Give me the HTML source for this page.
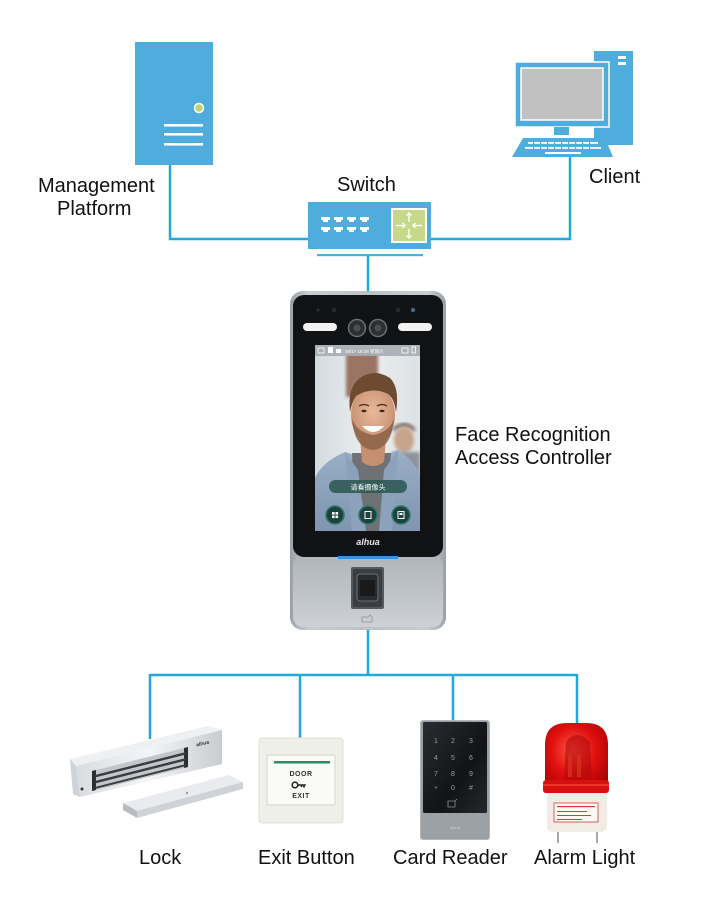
<!DOCTYPE html>
<html>
<head>
<meta charset="utf-8">
<style>
  html,body{margin:0;padding:0;background:#fff;}
  svg{display:block;}
  .lbl{font-family:"Liberation Sans","Noto Sans CJK SC",sans-serif;font-size:20px;fill:#111;}
</style>
</head>
<body>
<svg width="704" height="915" viewBox="0 0 704 915" xmlns="http://www.w3.org/2000/svg">
  <defs>
    <linearGradient id="devBody" x1="0" y1="0" x2="1" y2="0">
      <stop offset="0" stop-color="#9aa0a6"/>
      <stop offset="0.12" stop-color="#c9cdd1"/>
      <stop offset="0.5" stop-color="#bcc1c6"/>
      <stop offset="0.88" stop-color="#c9cdd1"/>
      <stop offset="1" stop-color="#9aa0a6"/>
    </linearGradient>
    <linearGradient id="devLow" x1="0" y1="0" x2="0" y2="1">
      <stop offset="0" stop-color="#b0b5ba"/>
      <stop offset="1" stop-color="#cdd1d5"/>
    </linearGradient>
    <linearGradient id="scrBg" x1="0" y1="0" x2="1" y2="0">
      <stop offset="0" stop-color="#d3dbe0"/>
      <stop offset="0.5" stop-color="#eceeef"/>
      <stop offset="1" stop-color="#dde1e4"/>
    </linearGradient>
    <linearGradient id="jacket" x1="0" y1="0" x2="0" y2="1">
      <stop offset="0" stop-color="#9aaec6"/>
      <stop offset="1" stop-color="#7f95b1"/>
    </linearGradient>
    <radialGradient id="face" cx="0.5" cy="0.45" r="0.6">
      <stop offset="0" stop-color="#e8b89b"/>
      <stop offset="1" stop-color="#c48d6e"/>
    </radialGradient>
    <radialGradient id="dome" cx="0.45" cy="0.4" r="0.7">
      <stop offset="0" stop-color="#ff5a4a"/>
      <stop offset="0.5" stop-color="#e01010"/>
      <stop offset="1" stop-color="#a50000"/>
    </radialGradient>
    <linearGradient id="reader" x1="0" y1="0" x2="1" y2="1">
      <stop offset="0" stop-color="#2a2c31"/>
      <stop offset="0.6" stop-color="#121316"/>
      <stop offset="1" stop-color="#25272b"/>
    </linearGradient>
    <linearGradient id="silver" x1="0" y1="0" x2="1" y2="0">
      <stop offset="0" stop-color="#d9dcdf"/>
      <stop offset="0.5" stop-color="#f4f5f6"/>
      <stop offset="1" stop-color="#c9ccd0"/>
    </linearGradient>
    <filter id="blur1"><feGaussianBlur stdDeviation="1.5"/></filter>
    <clipPath id="scrClip"><rect x="315" y="345" width="105" height="186"/></clipPath>
  </defs>

  <!-- ============ CONNECTORS ============ -->
  <g stroke="#1fa9dc" stroke-width="2.5" fill="none">
    <polyline points="170,165 170,239 309,239"/>
    <polyline points="570,156 570,239 430,239"/>
    <line x1="368" y1="255" x2="368" y2="293"/>
    <line x1="368" y1="629" x2="368" y2="675"/>
    <line x1="150" y1="675" x2="577" y2="675"/>
    <line x1="150" y1="674" x2="150" y2="739"/>
    <line x1="300" y1="674" x2="300" y2="739"/>
    <line x1="453" y1="674" x2="453" y2="722"/>
    <line x1="577" y1="674" x2="577" y2="725"/>
  </g>

  <!-- ============ SERVER ============ -->
  <rect x="135" y="42" width="78" height="123" fill="#4eaddd"/>
  <circle cx="199" cy="108" r="4.5" fill="#bcd370" stroke="#ffffff" stroke-width="1.5"/>
  <rect x="164" y="124" width="39" height="2.6" fill="#fff"/>
  <rect x="164" y="133" width="39" height="2.6" fill="#fff"/>
  <rect x="164" y="143" width="39" height="2.6" fill="#fff"/>

  <!-- ============ SWITCH ============ -->
  <rect x="308" y="202" width="123" height="47" fill="#4eaddd"/>
  <rect x="317" y="254" width="106" height="2.2" fill="#4eaddd"/>
  <g fill="#fff">
    <path d="M321 217h9v3h-2v2h-5v-2h-2z"/>
    <path d="M334 217h9v3h-2v2h-5v-2h-2z"/>
    <path d="M347 217h9v3h-2v2h-5v-2h-2z"/>
    <path d="M360 217h9v3h-2v2h-5v-2h-2z"/>
    <path d="M321 227h9v3h-2v2h-5v-2h-2z"/>
    <path d="M334 227h9v3h-2v2h-5v-2h-2z"/>
    <path d="M347 227h9v3h-2v2h-5v-2h-2z"/>
    <path d="M360 227h9v3h-2v2h-5v-2h-2z"/>
  </g>
  <rect x="392" y="209" width="34" height="33" fill="#c6d98b" stroke="#fff" stroke-width="2"/>
  <g stroke="#fff" stroke-width="1.3" fill="none">
    <line x1="409" y1="213" x2="409" y2="222"/><polyline points="406.5,215.5 409,213 411.5,215.5"/>
    <line x1="409" y1="229" x2="409" y2="238"/><polyline points="406.5,235.5 409,238 411.5,235.5"/>
    <line x1="396" y1="225.5" x2="405" y2="225.5"/><polyline points="402.5,223 405,225.5 402.5,228"/>
    <line x1="413" y1="225.5" x2="422" y2="225.5"/><polyline points="415.5,223 413,225.5 415.5,228"/>
  </g>

  <!-- ============ CLIENT ============ -->
  <rect x="594" y="51" width="39" height="94" fill="#4eaddd"/>
  <rect x="618" y="56" width="8" height="3" fill="#fff"/>
  <rect x="618" y="62" width="8" height="3" fill="#fff"/>
  <rect x="515" y="62" width="94" height="65" fill="#4eaddd" stroke="#fff" stroke-width="1.5"/>
  <rect x="521" y="68" width="82" height="52" fill="#c1c1c1" stroke="#fff" stroke-width="1.5"/>
  <rect x="554" y="127" width="15" height="8" fill="#4eaddd"/>
  <polygon points="523,138 605,138 613,157 512,157" fill="#4eaddd"/>
  <g fill="#fff">
    <rect x="528" y="142" width="70" height="1.8"/>
    <rect x="525" y="147" width="76" height="1.8"/>
    <rect x="545" y="152" width="36" height="2"/>
  </g>
  <g fill="#4eaddd">
    <rect x="533" y="141" width="1.2" height="9"/><rect x="540" y="141" width="1.2" height="9"/>
    <rect x="547" y="141" width="1.2" height="9"/><rect x="554" y="141" width="1.2" height="9"/>
    <rect x="561" y="141" width="1.2" height="9"/><rect x="568" y="141" width="1.2" height="9"/>
    <rect x="575" y="141" width="1.2" height="9"/><rect x="582" y="141" width="1.2" height="9"/>
    <rect x="589" y="141" width="1.2" height="9"/>
  </g>

  <!-- ============ FACE RECOGNITION DEVICE ============ -->
  <rect x="290" y="291" width="156" height="339" rx="13" fill="url(#devBody)"/>
  <rect x="293" y="555" width="150" height="72" rx="10" fill="url(#devLow)"/>
  <rect x="293" y="295" width="150" height="262" rx="11" fill="#111214"/>
  <rect x="338" y="556" width="60" height="3" fill="#3f8fd8"/>
  <!-- top sensors -->
  <rect x="303" y="323" width="34" height="8" rx="4" fill="#f2f2f2"/>
  <rect x="398" y="323" width="34" height="8" rx="4" fill="#f2f2f2"/>
  <circle cx="357" cy="328" r="8.5" fill="#2c2e31" stroke="#6a6d72" stroke-width="1.5"/>
  <circle cx="378" cy="328" r="8.5" fill="#2c2e31" stroke="#6a6d72" stroke-width="1.5"/>
  <circle cx="357" cy="328" r="3.5" fill="#4a4d52"/>
  <circle cx="378" cy="328" r="3.5" fill="#4a4d52"/>
  <circle cx="318" cy="310" r="1.8" fill="#2a2b2e"/>
  <circle cx="334" cy="310" r="2.5" fill="#27282b"/>
  <circle cx="398" cy="310" r="2.5" fill="#27282b"/>
  <circle cx="413" cy="310" r="2.2" fill="#3e6d88"/>
  <!-- screen -->
  <g clip-path="url(#scrClip)">
    <rect x="315" y="345" width="105" height="186" fill="url(#scrBg)"/>
    <rect x="346" y="352" width="32" height="45" fill="#9a7465" filter="url(#blur1)"/>
    <ellipse cx="404" cy="440" rx="10" ry="13" fill="#c7a38e" filter="url(#blur1)"/>
    <path d="M393 432 q11 -12 22 0 v-4 q-11 -10 -22 0z" fill="#6a5444" filter="url(#blur1)"/>
    <rect x="392" y="452" width="28" height="30" fill="#8d949b" filter="url(#blur1)"/>
    <path d="M315 478 Q322 462 345 452 L372 460 L398 450 Q416 462 420 476 L420 531 L315 531 Z" fill="url(#jacket)"/>
    <path d="M352 453 L391 453 L384 531 L355 531 Z" fill="#6f7175"/>
    <path d="M345 452 L358 470 L366 531 L352 531 Z" fill="#8ca1bc"/>
    <path d="M398 450 L384 470 L379 531 L392 531 Z" fill="#8ca1bc"/>
    <path d="M360 438 L386 438 L384 462 Q373 470 362 462 Z" fill="#c58f70"/>
    <ellipse cx="373" cy="415" rx="22" ry="30" fill="url(#face)"/>
    <path d="M352 418 Q354 448 373 450 Q392 448 394 418 Q390 432 373 435 Q356 432 352 418 Z" fill="#8a6148" opacity="0.85"/>
    <path d="M362 426 Q373 438 384 426 Z" fill="#fff"/>
    <path d="M359 406 q5 -3 10 0" stroke="#5a3c2a" stroke-width="1.5" fill="none"/>
    <path d="M377 406 q5 -3 10 0" stroke="#5a3c2a" stroke-width="1.5" fill="none"/>
    <ellipse cx="364" cy="411" rx="2.5" ry="1.2" fill="#3a2a20"/>
    <ellipse cx="382" cy="411" rx="2.5" ry="1.2" fill="#3a2a20"/>
    <path d="M350 412 Q347 388 360 378 Q374 368 390 378 Q400 388 396 412 Q394 398 388 394 Q372 386 356 396 Q352 402 350 412 Z" fill="#6e4a31"/>
    <rect x="315" y="345" width="105" height="11" fill="#a6adb2" opacity="0.9"/>
    <g fill="#fff">
      <rect x="318" y="348" width="6" height="5" fill="none" stroke="#fff" stroke-width="0.8"/>
      <rect x="328" y="347" width="5" height="6"/>
      <rect x="336" y="349" width="5" height="4"/>
      <text x="345" y="353" font-family="Liberation Sans, Noto Sans CJK SC, sans-serif" font-size="4.5" fill="#fff">08/17 15:26  星期六</text>
      <rect x="402" y="348" width="6" height="5" fill="none" stroke="#fff" stroke-width="0.8"/>
      <rect x="412" y="347" width="3.5" height="6" fill="none" stroke="#fff" stroke-width="0.8"/>
    </g>
    <rect x="329" y="480" width="78" height="13" rx="6.5" fill="#2e5853" opacity="0.88"/>
    <text x="368" y="489.5" text-anchor="middle" font-family="Noto Sans CJK SC, sans-serif" font-size="7" fill="#fff">请看摄像头</text>
    <circle cx="335" cy="515" r="9" fill="#1e433f" stroke="#2f7a6c" stroke-width="1.5"/>
    <circle cx="368" cy="515" r="9" fill="#1e433f" stroke="#2f7a6c" stroke-width="1.5"/>
    <circle cx="401" cy="515" r="9" fill="#1e433f" stroke="#2f7a6c" stroke-width="1.5"/>
    <g fill="#fff">
      <rect x="332" y="512" width="2.6" height="2.6"/><rect x="335.5" y="512" width="2.6" height="2.6"/>
      <rect x="332" y="515.5" width="2.6" height="2.6"/><rect x="335.5" y="515.5" width="2.6" height="2.6"/>
      <rect x="365" y="511.5" width="6" height="7" fill="none" stroke="#fff" stroke-width="1"/>
      <rect x="398" y="511.5" width="6" height="7" fill="none" stroke="#fff" stroke-width="1"/>
      <rect x="399.5" y="513" width="3" height="2"/>
    </g>
  </g>
  <text x="368" y="545" text-anchor="middle" font-family="Liberation Sans, sans-serif" font-size="9" font-weight="bold" font-style="italic" fill="#e8e8e8">alhua</text>
  <!-- fingerprint -->
  <rect x="351" y="567" width="33" height="42" rx="2" fill="#55595e"/>
  <rect x="353" y="569" width="29" height="38" rx="2" fill="#3a3d41"/>
  <rect x="357" y="574" width="21" height="27" rx="3" fill="#2a2b2e" stroke="#6c7075" stroke-width="1"/>
  <rect x="360" y="580" width="15" height="16" rx="2" fill="#1a1a1c"/>
  <path d="M362 622 v-5 h6 l2 -2 l2 2 v5 z" fill="none" stroke="#8d9297" stroke-width="0.8"/>

  <!-- ============ LOCK ============ -->
  <polygon points="70,759 208,726 222,730 76,766" fill="#eef0f2"/>
  <polygon points="76,766 222,730 222,764 80,797" fill="url(#silver)"/>
  <polygon points="70,759 76,766 80,797 73,794" fill="#d0d3d6"/>
  <polygon points="92,771 188,747 188,767 92,791" fill="#c3c6ca"/>
  <polygon points="92,771 96,770 96,790 92,791" fill="#2b2d30"/>
  <polygon points="184,748 188,747 188,767 184,768" fill="#2b2d30"/>
  <polygon points="95,775 186,752 186,754.5 95,777.5" fill="#3a3c40"/>
  <polygon points="95,781 186,758 186,760.5 95,783.5" fill="#3a3c40"/>
  <polygon points="95,787 186,764 186,766 95,789" fill="#3a3c40"/>
  <text x="203" y="745" text-anchor="middle" font-family="Liberation Sans, sans-serif" font-size="5" font-weight="bold" fill="#333" transform="rotate(-13 203 745)">alhua</text>
  <circle cx="82" cy="789" r="1.5" fill="#333"/>
  <polygon points="123,803 229,775 243,782 137,811" fill="#e9ebee"/>
  <polygon points="123,803 137,811 137,818 123,810" fill="#b8bcc0"/>
  <polygon points="137,811 243,782 243,789 137,818" fill="#cfd2d6"/>
  <circle cx="187" cy="793" r="1.2" fill="#999"/>

  <!-- ============ EXIT BUTTON ============ -->
  <rect x="259" y="738" width="84" height="85" rx="3" fill="#efefea" stroke="#e0e0da" stroke-width="1"/>
  <rect x="267" y="755" width="68" height="50" rx="2" fill="#fafaf7" stroke="#d4d4ce" stroke-width="1"/>
  <rect x="274" y="761" width="56" height="2.5" fill="#2e8a68"/>
  <text x="301" y="776" text-anchor="middle" font-family="Liberation Sans, sans-serif" font-size="7" font-weight="bold" fill="#333" letter-spacing="0.5">DOOR</text>
  <circle cx="295" cy="785" r="2.8" fill="none" stroke="#222" stroke-width="1.6"/>
  <path d="M297.8 785 h8 M304 785 v2.5 M301.5 785 v2" stroke="#222" stroke-width="1.6" fill="none"/>
  <text x="301" y="798" text-anchor="middle" font-family="Liberation Sans, sans-serif" font-size="7" font-weight="bold" fill="#333" letter-spacing="0.5">EXIT</text>

  <!-- ============ CARD READER ============ -->
  <rect x="420" y="720" width="70" height="120" rx="3" fill="#b3b7bb"/>
  <rect x="421" y="721" width="68" height="118" rx="2.5" fill="#9a9fa4"/>
  <rect x="423" y="722" width="64" height="91" rx="1.5" fill="url(#reader)"/>
  <rect x="422" y="813" width="66" height="25" fill="#9ca1a6"/>
  <g font-family="Liberation Sans, sans-serif" font-size="7" fill="#9a9da2" text-anchor="middle">
    <text x="436" y="743">1</text><text x="453" y="743">2</text><text x="471" y="743">3</text>
    <text x="436" y="760">4</text><text x="453" y="760">5</text><text x="471" y="760">6</text>
    <text x="436" y="776">7</text><text x="453" y="776">8</text><text x="471" y="776">9</text>
    <text x="436" y="791">*</text><text x="453" y="790">0</text><text x="471" y="790">#</text>
  </g>
  <path d="M448 801 h7 v6 h-7 z M455 801 l2 -2" stroke="#8b8e92" stroke-width="0.8" fill="none"/>
  <text x="455" y="829" text-anchor="middle" font-family="Liberation Sans, sans-serif" font-size="4" fill="#d0d3d6">alhua</text>

  <!-- ============ ALARM LIGHT ============ -->
  <path d="M545 792 L545 745 Q545 723 567 723 L586 723 Q608 723 608 745 L608 792 Z" fill="url(#dome)"/>
  <path d="M566 742 Q576 728 590 742 L592 780 L564 780 Z" fill="#b00808" opacity="0.6"/>
  <rect x="568" y="755" width="4" height="22" fill="#d83020" opacity="0.8"/>
  <rect x="577" y="755" width="4" height="22" fill="#d83020" opacity="0.8"/>
  <rect x="543" y="780" width="66" height="13" rx="3" fill="#d41010"/>
  <rect x="543" y="784" width="66" height="2" fill="#ff4a3a" opacity="0.6"/>
  <path d="M547 793 L607 793 L607 826 Q607 832 600 832 L554 832 Q547 832 547 826 Z" fill="#f2ece4"/>
  <rect x="554" y="803" width="44" height="19" fill="#fffaf4" stroke="#d96060" stroke-width="1"/>
  <g fill="#d04040">
    <rect x="557" y="806" width="38" height="1.2"/>
    <rect x="557" y="811" width="30" height="1"/>
    <rect x="557" y="815" width="34" height="1"/>
    <rect x="557" y="819" width="25" height="1"/>
  </g>
  <rect x="557" y="832" width="2" height="11" fill="#a9a9a9"/>
  <rect x="596" y="832" width="2" height="11" fill="#a9a9a9"/>

  <!-- ============ LABELS ============ -->
  <text class="lbl" x="38" y="192">Management</text>
  <text class="lbl" x="57" y="215">Platform</text>
  <text class="lbl" x="337" y="191">Switch</text>
  <text class="lbl" x="589" y="183">Client</text>
  <text class="lbl" x="455" y="441">Face Recognition</text>
  <text class="lbl" x="455" y="464">Access Controller</text>
  <text class="lbl" x="139" y="864">Lock</text>
  <text class="lbl" x="258" y="864">Exit Button</text>
  <text class="lbl" x="393" y="864">Card Reader</text>
  <text class="lbl" x="534" y="864">Alarm Light</text>
</svg>
</body>
</html>
